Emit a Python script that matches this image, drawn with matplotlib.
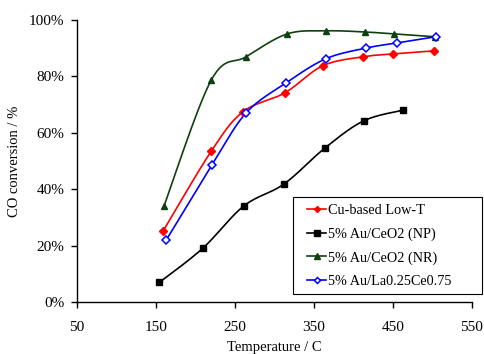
import numpy as np
import matplotlib
matplotlib.use("Agg")
import matplotlib.pyplot as plt
from matplotlib.ticker import FuncFormatter
from matplotlib.patches import Rectangle

plt.rcParams['font.family'] = ['Liberation Serif', 'DejaVu Serif']

cu_x = [159, 220, 260, 313, 361, 412, 450, 502]
cu_y = [25.2, 53.5, 67.4, 74.1, 83.7, 86.9, 87.9, 89.0]
np_x = [154, 209, 261, 312, 364, 413, 463]
np_y = [6.9, 19.0, 34.0, 41.8, 54.6, 64.2, 68.0]
nr_x = [160, 220, 264, 316, 365, 414, 451, 503]
nr_y = [34.0, 78.7, 86.9, 95.0, 96.1, 95.7, 95.0, 94.0]
la_x = [163, 221, 264, 315, 365, 416, 455, 504]
la_y = [22.0, 48.6, 67.0, 77.7, 86.2, 90.0, 91.8, 94.0]

labels = ["Cu-based Low-T", "5% Au/CeO2 (NP)", "5% Au/CeO2 (NR)", "5% Au/La0.25Ce0.75"]
xticks = [50, 150, 250, 350, 450, 550]
yticks = [0, 20, 40, 60, 80, 100]


def smooth(x, y, n=30):
    """Catmull-Rom smoothing for drawing the connecting line (like Excel's smoothed line)."""
    P = np.column_stack([np.asarray(x, float), np.asarray(y, float)])
    P = np.vstack([P[0], P, P[-1]])
    out = []
    s = np.linspace(0, 1, n)[:, None]
    h00 = 2 * s**3 - 3 * s**2 + 1
    h10 = s**3 - 2 * s**2 + s
    h01 = -2 * s**3 + 3 * s**2
    h11 = s**3 - s**2
    for i in range(1, len(P) - 2):
        p0, p1, p2, p3 = P[i - 1], P[i], P[i + 1], P[i + 2]
        m1 = (p2 - p0) * 0.5
        m2 = (p3 - p1) * 0.5
        out.append(h00 * p1 + h10 * m1 + h01 * p2 + h11 * m2)
    A = np.vstack(out)
    return A[:, 0], A[:, 1]


fig = plt.figure(figsize=(4.85, 3.54), dpi=100)
ax = fig.add_axes([0.159, 0.147, 0.814, 0.797])

green = '#0f4010'
series = [
    (cu_x, cu_y, 'red', dict(marker='D', ms=3.8, mfc='red', mec='red')),
    (np_x, np_y, 'black', dict(marker='s', ms=4.8, mfc='black', mec='black')),
    (nr_x, nr_y, green, dict(marker='^', ms=5, mfc=green, mec=green)),
    (la_x, la_y, 'blue', dict(marker='D', ms=3.8, mfc='white', mec='blue', mew=1.1)),
]
handles = []
for (x, y, c, mk), lab in zip(series, labels):
    sx, sy = smooth(x, y)
    ax.plot(sx, sy, color=c, lw=1.2, zorder=2)
    ax.plot(x, y, ls='none', zorder=3, **mk)
    lmk = dict(mk)
    lmk['ms'] = mk['ms'] * 0.8
    h, = ax.plot([], [], color=c, lw=1.2, **lmk)
    handles.append(h)

ax.set_xlim(50, 550)
ax.set_ylim(0, 100)
ax.set_xticks(xticks)
ax.set_yticks(yticks)
ax.yaxis.set_major_formatter(FuncFormatter(lambda v, p: f"{int(v)}%"))
ax.tick_params(axis='both', direction='out', length=4, width=1, labelsize=11, colors='black')
ax.tick_params(axis='x', pad=10)
ax.tick_params(axis='y', pad=5)
for s in ['top', 'right']:
    ax.spines[s].set_visible(False)
for s in ['left', 'bottom']:
    ax.spines[s].set_linewidth(1.0)

ax.set_xlabel("Temperature / C", fontsize=10.5, labelpad=5)
ax.set_ylabel("CO conversion / %", fontsize=10.5, labelpad=6)

W, H = 485, 354
fig.patches.append(Rectangle((293 / W, 1 - 294 / H), (482 - 293) / W, (294 - 197) / H,
                             transform=fig.transFigure, fill=False, edgecolor='black',
                             lw=0.8, zorder=5))
leg = fig.legend(handles, labels,
                 loc='upper left', bbox_to_anchor=(307 / W, 1 - 204 / H),
                 fontsize=10.3, frameon=False,
                 handlelength=1.35, handletextpad=0.1, labelspacing=0.72,
                 borderpad=0, borderaxespad=0)

fig.savefig("out.png", dpi=100)
